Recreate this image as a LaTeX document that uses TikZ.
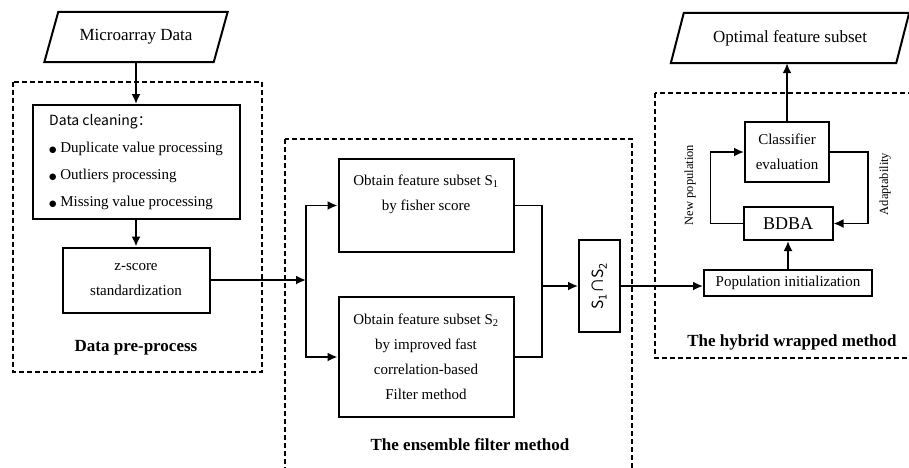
\documentclass[tikz,border=0pt]{standalone}
\usepackage{fontspec}
\setmainfont{Liberation Serif}
\newfontfamily\cjkfont{Noto Sans CJK SC}
\newfontfamily\symfont{DejaVu Sans}
\usetikzlibrary{arrows.meta}
\newcommand{\dotitem}{{\symfont\fontsize{8.5}{10}\selectfont ●}\ }
\begin{document}
\begin{tikzpicture}[x=1pt,y=-1pt,
		box/.style={draw,line width=2pt,inner sep=2pt,align=center,font=\fontsize{15}{25}\selectfont},
		paratext/.style={inner sep=0pt,minimum height=50,font=\fontsize{17}{20}\selectfont},
		para/.style={line width=2pt,line join=miter},
		dashbox/.style={draw,line width=1.5pt,dash pattern=on 5pt off 3pt},
		title/.style={font=\fontsize{17}{20}\selectfont\bfseries},
		side/.style={rotate=90,font=\fontsize{12.5}{15}\selectfont},
		ln/.style={line width=1.8pt},
		arw/.style={line width=1.8pt,-{Latex[length=10pt,width=9pt]}}]
				\useasboundingbox (0,0) rectangle (909,467);
				%-- data pre-process
				\node[paratext,minimum width=169] (micro) at (136,37) {Microarray Data};
				\draw[para] ([xshift=-7pt]micro.south west) -- ([xshift=7pt]micro.north west) -- ([xshift=7pt]micro.north east) -- ([xshift=-7pt]micro.south east) -- cycle;
				\draw[dashbox] (13,82) rectangle (262,372);
				\node[box,minimum width=207,minimum height=114,align=left,font=\fontsize{15}{26.7}\selectfont] (clean) at (136,162)
					{{\cjkfont\fontsize{14}{26.7}\selectfont Data cleaning：}\\
					\dotitem Duplicate value processing\\
					\dotitem Outliers processing\\
					\dotitem Missing value processing};
				\node[box,minimum width=147,minimum height=65] (zscore) at (136,280) {z-score\\standardization};
				\node[title] (pretitle) at (136,348) {Data pre-process};
				\draw[arw] (micro) -- (clean);
				\draw[arw] (clean) -- (zscore);
				%-- ensemble filter
				\draw[dashbox] (285,139) rectangle (632,490);
				\coordinate (split) at (306,280);
				\node[box,minimum width=175,minimum height=93] (fisher) at (426,205.5) {Obtain feature subset S\textsubscript{1}\\by fisher score\\ \mbox{}};
				\node[box,minimum width=175,minimum height=120] (fcbf) at (426,357) {Obtain feature subset S\textsubscript{2}\\by improved fast\\correlation-based\\Filter method};
				\node[box,rotate=90,minimum width=92,minimum height=41,font=\cjkfont\fontsize{15.5}{18}\selectfont] (inter) at (599.5,286) {S\textsubscript{1}∩S\textsubscript{2}};
				\node[title] (enstitle) at (470,445) {The ensemble filter method};
				\coordinate (mrg) at (542,286);
				\draw[arw] (zscore) -- (split);
				\draw[arw] (split) |- (fisher.west);
				\draw[arw] (split) |- (fcbf.west);
				\draw[ln] (fisher.east) -| (mrg);
				\draw[ln] (fcbf.east) -| (mrg);
				\draw[arw] (mrg) -- (inter);
				%-- hybrid wrapped
				\node[paratext,minimum width=225] (optimal) at (790,38) {Optimal feature subset};
				\draw[para] ([xshift=-6.5pt]optimal.south west) -- ([xshift=6.5pt]optimal.north west) -- ([xshift=6.5pt]optimal.north east) -- ([xshift=-6.5pt]optimal.south east) -- cycle;
				\draw[dashbox] (655,93) rectangle (915,358);
				\node[box,minimum width=84,minimum height=60] (cls) at (787,152) {Classifier\\evaluation};
				\node[box,minimum width=89,minimum height=33,font=\fontsize{18}{20}\selectfont] (bdba) at (788,223.5) {BDBA};
				\node[box,minimum width=168,minimum height=26] (pop) at (788,283) {Population initialization};
				\node[side] (newpop) at (690,185) {New population};
				\node[side] (adapt) at (885,184) {Adaptability};
				\node[title] (hybtitle) at (792,342) {The hybrid wrapped method};
				\draw[arw] (inter) -- (inter -| pop.west);
				\draw[arw] (pop) -- (bdba);
				\draw[arw] (cls) -- (cls |- optimal.south);
				\draw[arw] (bdba.west) -- ++(-32,0) |- (cls.west);
				\draw[arw] (cls.east) -- ++(38,0) |- (bdba.east);
			\end{tikzpicture}
\end{document}
